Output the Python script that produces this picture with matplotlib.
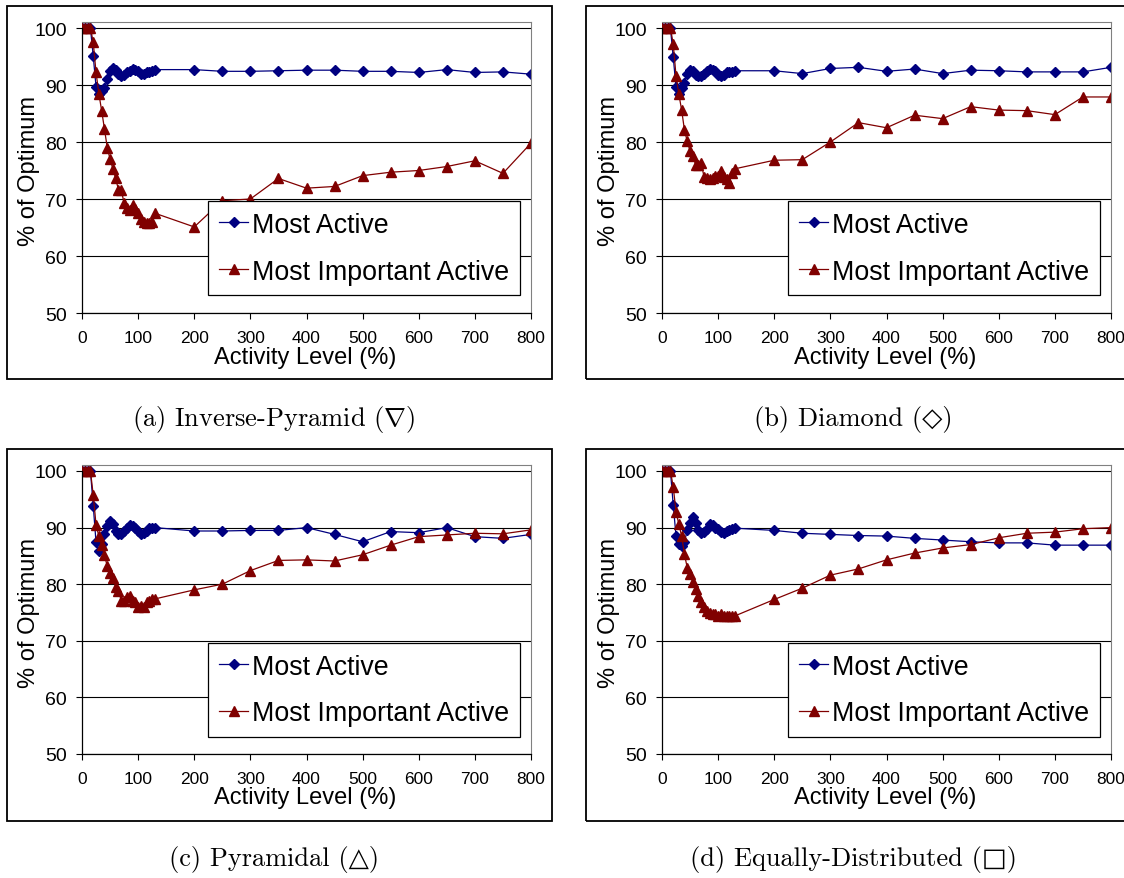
import matplotlib
matplotlib.use('Agg')
import matplotlib.pyplot as plt
from matplotlib.patches import Rectangle

# activity levels (%) used in every run
activity = [0, 5, 10, 15, 20, 25, 30, 35, 40, 45, 50, 55, 60, 65, 70, 75, 80, 85, 90, 95,
            100, 105, 110, 115, 120, 125, 130,
            200, 250, 300, 350, 400, 450, 500, 550, 600, 650, 700, 750, 800]

# % of optimum, inverse-pyramid hierarchy
a_active = [100, 100, 100, 100, 95.1, 89.7, 88.4, 89.0, 89.4, 91.0, 92.5, 93.0, 92.7, 92.0,
            91.5, 91.7, 92.2, 92.5, 92.8, 92.7, 92.5, 92.0, 92.0, 92.3, 92.2, 92.5, 92.7,
            92.7, 92.4, 92.4, 92.5, 92.6, 92.6, 92.4, 92.4, 92.2, 92.7, 92.2, 92.3, 91.9]
a_important = [100, 100, 100, 100, 97.5, 92.2, 88.5, 85.5, 82.3, 79.0, 77.0, 75.3, 73.6, 71.6,
               71.5, 69.3, 68.5, 68.0, 69.0, 68.2, 67.6, 66.5, 66.0, 65.8, 65.8, 66.0, 67.5,
               65.1, 69.7, 70.0, 73.6, 71.9, 72.2, 74.1, 74.7, 75.0, 75.7, 76.7, 74.5, 79.8]

# diamond hierarchy
b_active = [100, 100, 100, 100, 94.9, 89.6, 88.4, 89.5, 90.4, 92.0, 92.7, 92.5, 91.8, 91.5,
            91.5, 92.0, 92.5, 92.8, 92.7, 92.5, 91.8, 91.5, 91.8, 92.2, 92.3, 92.3, 92.5,
            92.5, 92.0, 92.9, 93.1, 92.4, 92.8, 92.0, 92.6, 92.5, 92.3, 92.3, 92.3, 93.1]
b_important = [100, 100, 100, 100, 97.2, 91.6, 88.4, 85.6, 82.1, 80.1, 78.4, 77.5, 76.0, 76.0,
               76.3, 73.8, 73.7, 73.5, 73.7, 74.0, 74.0, 75.0, 73.9, 73.5, 72.8, 74.5, 75.3,
               76.8, 76.9, 80.0, 83.4, 82.5, 84.7, 84.1, 86.2, 85.6, 85.5, 84.8, 87.9, 87.9]

# pyramidal hierarchy
c_active = [100, 100, 100, 100, 93.9, 87.4, 85.9, 87.1, 88.8, 90.3, 91.2, 90.6, 89.4, 88.8,
            88.8, 89.4, 90.0, 90.5, 90.3, 90.0, 89.4, 88.9, 89.1, 89.4, 89.9, 90.0, 90.0,
            89.4, 89.4, 89.5, 89.5, 90.0, 88.8, 87.5, 89.3, 89.1, 90.0, 88.4, 88.1, 88.8]
c_important = [100, 100, 100, 100, 95.8, 90.5, 88.5, 86.9, 85.1, 83.2, 81.9, 81.1, 79.5, 78.8,
               77.1, 77.1, 77.8, 77.9, 77.1, 76.8, 75.9, 76.2, 75.9, 76.8, 77.1, 77.4, 77.4,
               79.0, 80.0, 82.4, 84.2, 84.3, 84.1, 85.2, 86.9, 88.4, 88.7, 89.0, 88.9, 89.6]

# equally-distributed hierarchy
d_active = [100, 100, 100, 100, 94.0, 88.5, 87.1, 86.8, 87.5, 89.5, 90.9, 91.8, 90.9, 89.5,
            89.1, 89.3, 89.7, 90.6, 90.5, 90.0, 89.7, 89.3, 89.1, 89.4, 89.5, 89.7, 89.9,
            89.5, 89.0, 88.8, 88.6, 88.5, 88.1, 87.8, 87.5, 87.3, 87.3, 86.9, 86.9, 86.9]
d_important = [100, 100, 100, 100, 97.2, 92.8, 90.6, 88.5, 85.3, 82.9, 81.8, 80.4, 79.1, 77.9,
               76.8, 75.9, 75.3, 75.0, 74.7, 74.7, 74.4, 74.7, 74.4, 74.4, 74.4, 74.4, 74.4,
               77.3, 79.3, 81.6, 82.7, 84.3, 85.5, 86.4, 87.0, 88.2, 89.0, 89.2, 89.8, 90.0]

captions = [r'(a) Inverse-Pyramid ($\nabla$)', '(b) Diamond (\u25c7)',
            '(c) Pyramidal (\u25b3)', '(d) Equally-Distributed (\u25a1)']

plt.rcParams['font.family'] = ['Liberation Sans', 'DejaVu Sans']
plt.rcParams['mathtext.fontset'] = 'cm'

W, H = 1124, 879
fig = plt.figure(figsize=(W / 100, H / 100), dpi=100)

YTOP = 101.1

def add_panel(active, important, left, right, y50, scale, frame, caption, cap_xy):
    top = y50 - (YTOP - 50) * scale
    ax = fig.add_axes([left / W, 1 - y50 / H, (right - left) / W, (y50 - top) / H])
    ax.plot(activity, active, color='#000080', marker='D', ms=5.4, lw=0.9,
            mec='#000080', label='Most Active')
    ax.plot(activity, important, color='#800000', marker='^', ms=7.2, lw=0.9,
            mec='#800000', label='Most Important Active')
    ax.set_xlim(0, 800)
    ax.set_ylim(50, YTOP)
    ax.set_xticks(range(0, 801, 100))
    ax.set_yticks(range(50, 101, 10))
    ax.grid(axis='y', color='black', lw=0.8)
    ax.set_axisbelow(True)
    ax.spines['left'].set_bounds(50, 100)
    for s in ['top', 'right']:
        ax.spines[s].set_color('#808080')
        ax.spines[s].set_linewidth(0.8)
    ax.spines['left'].set_linewidth(0.9)
    ax.spines['bottom'].set_linewidth(0.9)
    ax.tick_params(axis='y', labelsize=14, length=4.5, width=0.8, pad=6.5)
    ax.tick_params(axis='x', labelsize=12.5, length=4, width=0.8, pad=8)
    ax.set_ylabel('% of Optimum', fontsize=17)
    ax.yaxis.set_label_coords(-0.094, 0.49)
    ax.set_xlabel('Activity Level (%)', fontsize=17)
    ax.xaxis.set_label_coords(0.497, -0.112)
    leg = ax.legend(loc='upper left', bbox_to_anchor=(0.281, 0.3845), fontsize=19.3,
                    fancybox=False, edgecolor='black', framealpha=1, borderpad=0.4,
                    labelspacing=0.78, handlelength=1.1, handletextpad=0.15, borderaxespad=0)
    leg.get_frame().set_linewidth(0.9)

    x0, y0, x1, y1 = frame
    fig.add_artist(Rectangle((x0 / W, 1 - y1 / H), (x1 - x0) / W, (y1 - y0) / H,
                             transform=fig.transFigure, fill=False, ec='black', lw=1.3))
    fig.text(cap_xy[0] / W, 1 - cap_xy[1] / H, caption, ha='center', va='center',
             fontsize=19, family=['cmr10', 'DejaVu Serif'])

add_panel(a_active, a_important, 82, 531, 314, 5.7, (7, 7, 552, 380), captions[0], (274, 420))
add_panel(b_active, b_important, 662, 1111, 314, 5.7, (586, 7, 1130, 380), captions[1], (853, 420))
add_panel(c_active, c_important, 82, 531, 755, 5.66, (7, 450, 552, 822), captions[2], (274, 860))
add_panel(d_active, d_important, 662, 1111, 755, 5.66, (586, 450, 1130, 822), captions[3], (853, 860))

fig.savefig('out.png', dpi=100)
